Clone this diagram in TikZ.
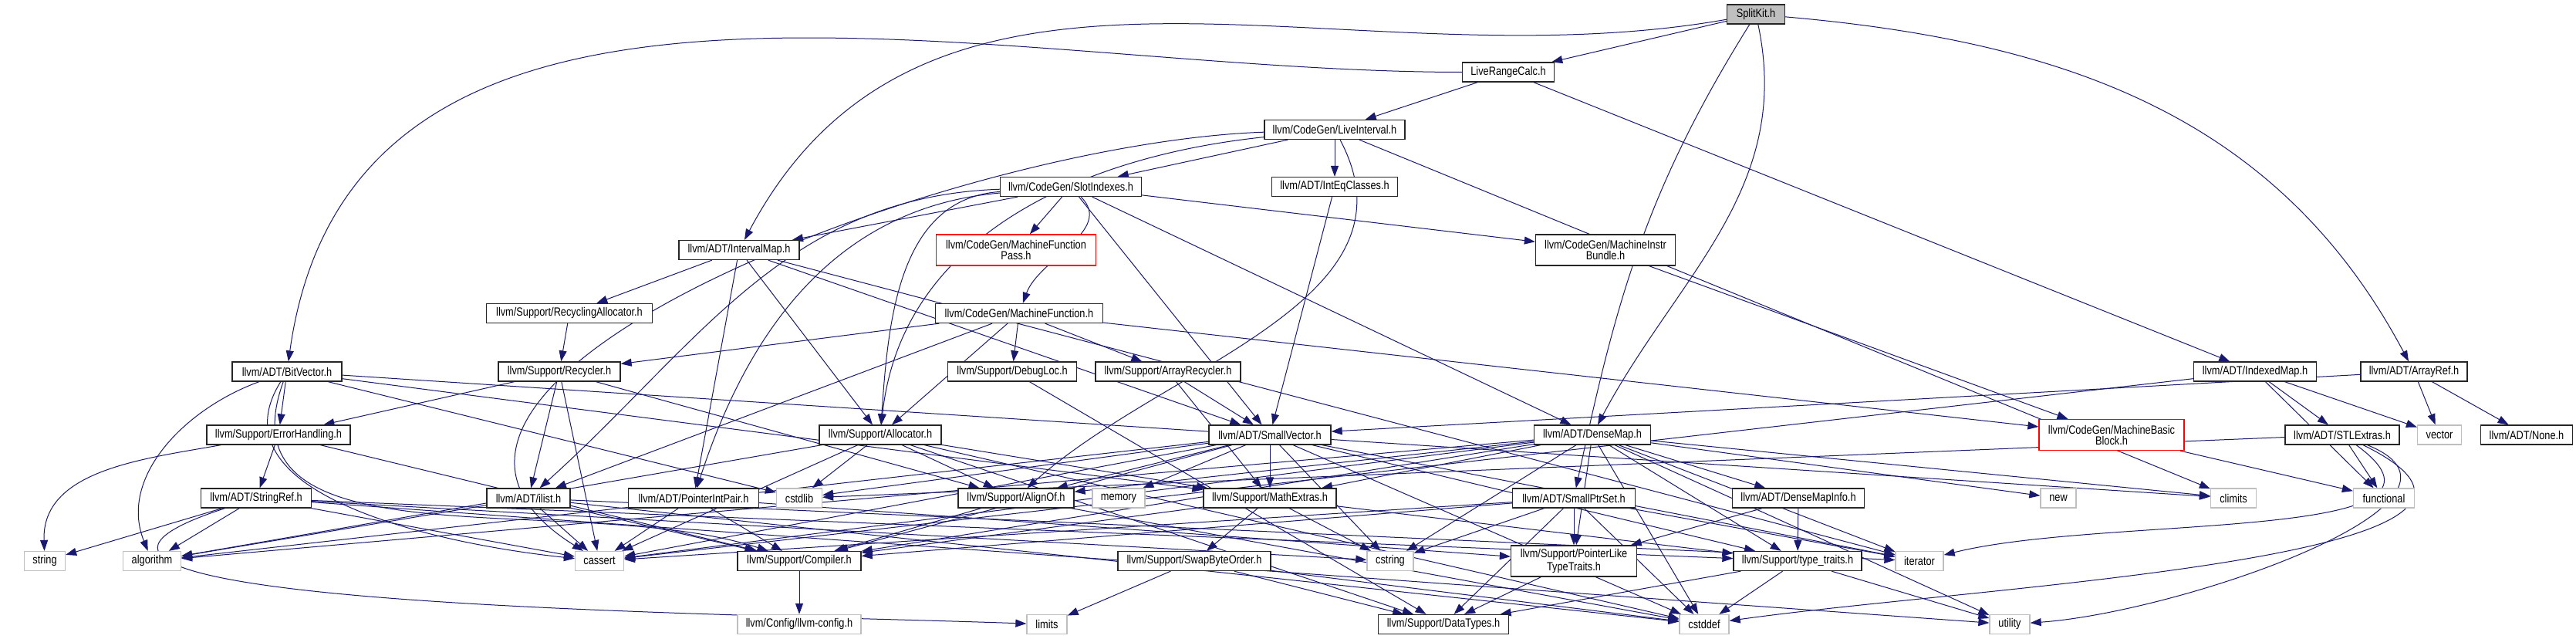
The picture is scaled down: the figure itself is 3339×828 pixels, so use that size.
\documentclass[tikz,border=0pt]{standalone}
\usepackage{fontspec}
\setmainfont{Liberation Sans}[FakeStretch=0.83]
\usetikzlibrary{arrows.meta, backgrounds}
\definecolor{edgeblue}{RGB}{25,25,112}
\definecolor{sysgray}{RGB}{191,191,191}

\begin{document}
\begin{tikzpicture}[x=0.5pt, y=-0.5pt,
  every node/.style={font=\fontsize{7.7pt}{7pt}\selectfont},
  hdr/.style={draw=black!85, fill=white, line width=0.65pt, inner sep=0pt, minimum height=12.5pt},
  sys/.style={hdr, draw=sysgray},
  root/.style={hdr, fill=sysgray},
  trunc/.style={hdr, draw=red, align=center, minimum height=20pt},
  twoline/.style={hdr, align=center, minimum height=20pt},
  dep/.style={draw=edgeblue, line width=0.5pt, -{Triangle[length=7pt,width=5pt]}}]
  \useasboundingbox (0,0) rectangle (3339,828);

  % rank 0 - 4
  \node[root, minimum width=37.5pt] (root) at (2276,18.5) {SplitKit.h};
  \node[hdr, minimum width=59.5pt] (lrc) at (1955,93.5) {LiveRangeCalc.h};
  \node[hdr, minimum width=91pt] (livei) at (1730,168) {llvm/CodeGen/LiveInterval.h};
  \node[hdr, minimum width=91.5pt] (slot) at (1388,242) {llvm/CodeGen/SlotIndexes.h};
  \node[hdr, minimum width=81.5pt] (ieq) at (1730,242) {llvm/ADT/IntEqClasses.h};
  \node[trunc, minimum width=103.5pt] (mfp) at (1317,324) {llvm/CodeGen/MachineFunction\\Pass.h};
  \node[hdr, minimum width=78pt] (imap) at (958,324) {llvm/ADT/IntervalMap.h};
  \node[twoline, minimum width=90.5pt] (mib) at (2081,324) {llvm/CodeGen/MachineInstr\\Bundle.h};

  % rank 5 - 6
  \node[hdr, minimum width=107.5pt] (ralloc) at (738,406) {llvm/Support/RecyclingAllocator.h};
  \node[hdr, minimum width=108.5pt] (mfunc) at (1321,406) {llvm/CodeGen/MachineFunction.h};
  \node[hdr, minimum width=71pt] (bvec) at (372,481.5) {llvm/ADT/BitVector.h};
  \node[hdr, minimum width=79pt] (recyc) at (725,481.5) {llvm/Support/Recycler.h};
  \node[hdr, minimum width=83.5pt] (dbgloc) at (1312,481.5) {llvm/Support/DebugLoc.h};
  \node[hdr, minimum width=94pt] (arecyc) at (1514,481.5) {llvm/Support/ArrayRecycler.h};
  \node[hdr, minimum width=79.5pt] (idxmap) at (2923,481.5) {llvm/ADT/IndexedMap.h};
  \node[hdr, minimum width=69pt] (aref) at (3129,481.5) {llvm/ADT/ArrayRef.h};

  % rank 7
  \node[hdr, minimum width=93pt] (errh) at (361,563.5) {llvm/Support/ErrorHandling.h};
  \node[hdr, minimum width=79pt] (alloc) at (1141,563.5) {llvm/Support/Allocator.h};
  \node[hdr, minimum width=79pt] (svec) at (1646,563.5) {llvm/ADT/SmallVector.h};
  \node[hdr, minimum width=75.5pt] (dmap) at (2064,563.5) {llvm/ADT/DenseMap.h};
  \node[trunc, minimum width=94pt] (mbb) at (2737,563.5) {llvm/CodeGen/MachineBasic\\Block.h};
  \node[hdr, minimum width=74pt] (stlx) at (3036,563.5) {llvm/ADT/STLExtras.h};
  \node[sys, minimum width=28.5pt] (vector) at (3162,563.5) {vector};
  \node[hdr, minimum width=59.5pt] (none) at (3275,563.5) {llvm/ADT/None.h};

  % rank 8
  \node[hdr, minimum width=71.5pt] (sref) at (332,645.5) {llvm/ADT/StringRef.h};
  \node[hdr, minimum width=54pt] (ilist) at (685,645.5) {llvm/ADT/ilist.h};
  \node[hdr, minimum width=84.5pt] (pip) at (899,645.5) {llvm/ADT/PointerIntPair.h};
  \node[sys, minimum width=29.5pt] (cstdlib) at (1036,645.5) {cstdlib};
  \node[hdr, minimum width=75pt] (alignof) at (1317,645.5) {llvm/Support/AlignOf.h};
  \node[sys, minimum width=34pt] (memory) at (1450,645.5) {memory};
  \node[hdr, minimum width=86pt] (mathx) at (1646,645.5) {llvm/Support/MathExtras.h};
  \node[hdr, minimum width=79.5pt] (sptr) at (2040,645.5) {llvm/ADT/SmallPtrSet.h};
  \node[hdr, minimum width=85.5pt] (dmi) at (2331,645.5) {llvm/ADT/DenseMapInfo.h};
  \node[sys, minimum width=23pt] (new) at (2668,645.5) {new};
  \node[sys, minimum width=29.5pt] (climits) at (2895,645.5) {climits};
  \node[sys, minimum width=39.5pt] (functional) at (3090,645.5) {functional};

  % rank 9
  \node[sys, minimum width=26.5pt] (string) at (58,727) {string};
  \node[sys, minimum width=37.5pt] (algorithm) at (197,727) {algorithm};
  \node[sys, minimum width=31.5pt] (cassert) at (777,727) {cassert};
  \node[hdr, minimum width=80pt] (compiler) at (1036,727) {llvm/Support/Compiler.h};
  \node[hdr, minimum width=99pt] (swap) at (1548,727) {llvm/Support/SwapByteOrder.h};
  \node[sys, minimum width=30pt] (cstring) at (1802,727) {cstring};
  \node[twoline, minimum width=81.5pt] (plt) at (2040,727) {llvm/Support/PointerLike\\TypeTraits.h};
  \node[hdr, minimum width=83pt] (ttraits) at (2330,727) {llvm/Support/type\_traits.h};
  \node[sys, minimum width=31pt] (iterator) at (2488,727) {iterator};

  % rank 10
  \node[sys, minimum width=80pt] (config) at (1036,809) {llvm/Config/llvm-config.h};
  \node[sys, minimum width=26pt] (limits) at (1357,809) {limits};
  \node[hdr, minimum width=84.5pt] (dtypes) at (1871,809) {llvm/Support/DataTypes.h};
  \node[sys, minimum width=32pt] (cstddef) at (2209,809) {cstddef};
  \node[sys, minimum width=26pt] (utility) at (2605,809) {utility};

  \begin{scope}[on background layer]
    \fill[white] (0,0) rectangle (3339,828);
    % long curved includes
    \foreach \s/\t/\o/\i in {root/imap/190/62, root/sptr/-122/78, root/dmap/-78/62, root/aref/-5/118,
        lrc/bvec/180/82, livei/alloc/186/84, livei/cassert/182/148, livei/alignof/-62/42,
        slot/mfunc/-45/70, slot/pip/185/72, slot/alloc/184/86, slot/ilist/182/42,
        bvec/algorithm/200/112, bvec/cassert/238/174, bvec/compiler/250/162, errh/string/190/92,
        sref/limits/198/178, stlx/utility/-22/4, stlx/iterator/-36/14, stlx/cstddef/-26/8}
      \draw[dep] (\s) to[out=\o,in=\i] (\t);
    % straight includes
    \foreach \s/\t in {root/lrc, lrc/idxmap, lrc/livei,
        livei/slot, livei/ieq, livei/climits,
        slot/mfp, slot/mib, slot/imap, slot/dmap, slot/svec,
        ieq/svec, imap/ralloc, imap/pip, imap/alloc, imap/svec, imap/iterator, mib/mbb, ralloc/recyc,
        mfunc/recyc, mfunc/ilist, mfunc/alloc, mfunc/dbgloc, mfunc/arecyc, mfunc/mbb,
        bvec/errh, bvec/mathx, bvec/climits, bvec/cstdlib,
        recyc/errh, recyc/ilist, recyc/alignof, recyc/cassert, dbgloc/dtypes, arecyc/svec, arecyc/mathx,
        idxmap/stlx, idxmap/vector, idxmap/cassert, idxmap/functional, aref/none, aref/vector, aref/svec,
        errh/sref, errh/compiler,
        alloc/cstdlib, alloc/alignof, alloc/mathx, alloc/algorithm, alloc/cassert, alloc/cstddef, alloc/dtypes,
        svec/alignof, svec/compiler, svec/mathx, svec/ttraits, svec/algorithm, svec/cassert,
        svec/cstddef, svec/cstdlib, svec/cstring, svec/iterator, svec/memory,
        dmap/dmi, dmap/alignof, dmap/compiler, dmap/mathx, dmap/plt, dmap/ttraits, dmap/algorithm,
        dmap/cassert, dmap/climits, dmap/cstddef, dmap/cstring, dmap/iterator, dmap/new, dmap/utility,
        mbb/functional, stlx/cstdlib, stlx/functional,
        sref/ttraits, sref/algorithm, sref/cassert, sref/cstring, sref/string, sref/utility,
        ilist/compiler, ilist/algorithm, ilist/cassert, ilist/cstddef, ilist/iterator,
        pip/compiler, pip/plt, pip/cassert, alignof/compiler, alignof/cstddef,
        mathx/compiler, mathx/swap, mathx/ttraits, mathx/cstring,
        sptr/compiler, sptr/dtypes, sptr/plt, sptr/cassert, sptr/cstddef, sptr/cstring, sptr/iterator,
        dmi/plt, dmi/ttraits, compiler/config, swap/dtypes, swap/cstddef, swap/limits,
        plt/dtypes, ttraits/dtypes, ttraits/cstddef, ttraits/utility}
      \draw[dep] (\s) -- (\t);
  \end{scope}
\end{tikzpicture}
\end{document}
